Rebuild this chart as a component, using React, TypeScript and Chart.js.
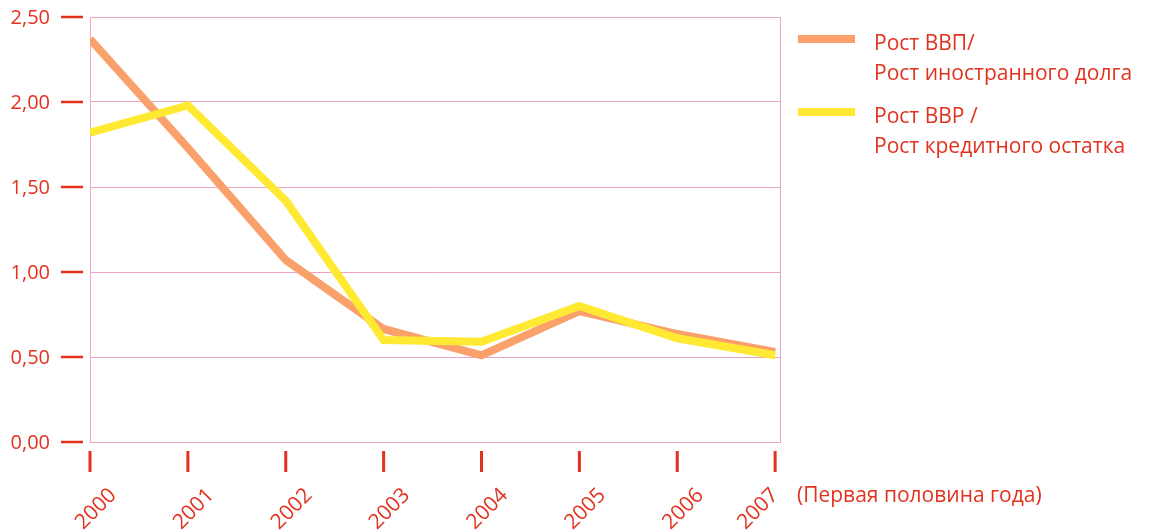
import React, { useEffect, useRef } from 'react';
import { Chart, registerables } from 'chart.js';

Chart.register(...registerables);

const years = [2000, 2001, 2002, 2003, 2004, 2005, 2006, 2007];
const gdpToForeignDebt = [2.37, 1.73, 1.07, 0.665, 0.51, 0.77, 0.635, 0.53];
const gdpToCreditBalance = [1.82, 1.98, 1.42, 0.6, 0.59, 0.8, 0.61, 0.51];
const yTicks = [0, 0.5, 1, 1.5, 2, 2.5];
const seriesNames = [
  ['Рост ВВП/', 'Рост иностранного долга'],
  ['Рост ВВР /', 'Рост кредитного остатка'],
];
const xNote = '(Первая половина года)';

const RED = '#E2321E';
const PINK = '#F0A4C4';
const ORANGE = '#F9A06B';
const YELLOW = '#FFE933';
const FONT = '"Open Sans", sans-serif';

const decor = {
  id: 'decor',
  beforeDatasetsDraw(chart: any) {
    const { ctx, chartArea: a } = chart;
    ctx.save();
    ctx.strokeStyle = PINK;
    ctx.lineWidth = 1;
    ctx.strokeRect(a.left + 0.5, a.top + 0.5, a.right - a.left - 1, a.bottom - a.top);
    ctx.restore();
  },
  afterDraw(chart: any) {
    const { ctx, chartArea: a, scales } = chart;
    const xs = scales.x;
    const ys = scales.y;
    ctx.save();
    ctx.fillStyle = RED;
    ctx.font = `20px ${FONT}`;
    // y ticks + labels
    ctx.textAlign = 'right';
    ctx.textBaseline = 'middle';
    yTicks.forEach((v) => {
      const py = ys.getPixelForValue(v);
      ctx.fillRect(a.left - 29, py - 1.25, 22, 2.5);
      ctx.fillText(v.toFixed(2).replace('.', ','), a.left - 40, py + 1);
    });
    // x ticks + labels
    ctx.font = `21px ${FONT}`;
    years.forEach((yr, i) => {
      const px = xs.getPixelForValue(yr);
      ctx.fillRect(px - 1.5, a.bottom + 9, 3, 21);
      ctx.save();
      const dx = i === years.length - 1 ? -17 : 6;
      ctx.translate(px + dx, a.bottom + 67);
      ctx.rotate(-Math.PI / 4);
      ctx.textAlign = 'center';
      ctx.textBaseline = 'middle';
      ctx.fillText(String(yr), 0, 0);
      ctx.restore();
    });
    // note
    ctx.textAlign = 'left';
    ctx.textBaseline = 'middle';
    ctx.fillText(xNote, a.right + 16, a.bottom + 54);
    // legend
    const colors = [ORANGE, YELLOW];
    const lineY = [39, 112];
    ctx.textBaseline = 'alphabetic';
    seriesNames.forEach((lines, i) => {
      ctx.fillStyle = colors[i];
      ctx.fillRect(a.right + 17, lineY[i] - 4, 57, 8);
      ctx.fillStyle = RED;
      lines.forEach((t, j) => {
        ctx.fillText(t, a.right + 93, lineY[i] + 11 + j * 30);
      });
    });
    ctx.restore();
  },
};

export default function App() {
  const ref = useRef<HTMLCanvasElement>(null);
  useEffect(() => {
    if (!ref.current) return;
    const chart = new Chart(ref.current, {
      type: 'line',
      data: {
        datasets: [
          {
            label: seriesNames[0].join(' '),
            data: years.map((x, i) => ({ x, y: gdpToForeignDebt[i] })),
            borderColor: ORANGE,
            backgroundColor: ORANGE,
            borderWidth: 8,
            pointRadius: 0,
            tension: 0,
            borderCapStyle: 'butt',
            borderJoinStyle: 'miter',
            order: 2,
          },
          {
            label: seriesNames[1].join(' '),
            data: years.map((x, i) => ({ x, y: gdpToCreditBalance[i] })),
            borderColor: YELLOW,
            backgroundColor: YELLOW,
            borderWidth: 8,
            pointRadius: 0,
            tension: 0,
            borderCapStyle: 'butt',
            borderJoinStyle: 'miter',
            order: 1,
          },
        ],
      },
      options: {
        animation: false,
        responsive: true,
        maintainAspectRatio: false,
        layout: { padding: { left: 90, right: 370, top: 17, bottom: 89 } },
        plugins: { legend: { display: false }, tooltip: { enabled: false } },
        scales: {
          x: {
            type: 'linear',
            min: 2000,
            max: 2007.06,
            display: false,
          },
          y: {
            min: 0,
            max: 2.5,
            ticks: { display: false, stepSize: 0.5 },
            grid: { color: PINK, drawTicks: false, lineWidth: 1 },
            border: { display: false },
          },
        },
      },
      plugins: [decor],
    } as any);
    return () => chart.destroy();
  }, []);
  return (
    <div style={{ position: 'fixed', left: 0, top: 0, width: 1151, height: 531, background: '#fff' }}>
      <canvas ref={ref} />
    </div>
  );
}
